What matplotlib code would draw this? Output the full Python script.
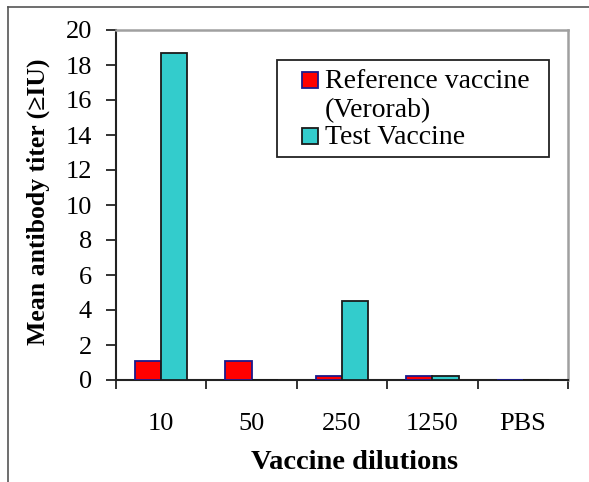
import matplotlib
matplotlib.use("Agg")
import matplotlib.pyplot as plt
import numpy as np
from matplotlib.lines import Line2D
from matplotlib.patches import Rectangle

categories = ["10", "50", "250", "1250", "PBS"]
reference_vaccine = [1.1, 1.1, 0.25, 0.25, 0.0]
test_vaccine = [18.7, 0.0, 4.5, 0.25, 0.0]
series_labels = ["Reference vaccine\n(Verorab)", "Test Vaccine"]
yticks = list(range(0, 21, 2))

plt.rcParams['font.family'] = ['Liberation Serif', 'DejaVu Serif']

RED = "#ff0000"
RED_EDGE = "#1a1a8c"
CYAN = "#33cccc"
CYAN_EDGE = "#1a1a1a"

W, H = 589, 482
fig = plt.figure(figsize=(W/100, H/100), dpi=100)
ax = fig.add_axes([116/W, 1-380/H, (568-116)/W, (380-30)/H])

x = np.arange(len(categories))
bw = 0.29
ax.bar(x - bw/2, reference_vaccine, width=bw, color=RED, edgecolor=RED_EDGE, linewidth=1.3, zorder=3)
ax.bar(x + bw/2, test_vaccine, width=bw, color=CYAN, edgecolor=CYAN_EDGE, linewidth=1.3, zorder=3)

ax.set_xlim(-0.5, len(categories)-0.5)
ax.set_ylim(0, 20)
ax.set_yticks(yticks)
ax.set_xticks(x)
ax.set_xticklabels(categories)
ax.set_xticks(np.arange(-0.5, len(categories)), minor=True)
ax.tick_params(axis='x', which='major', length=0, pad=24, labelsize=19)
ax.tick_params(axis='x', which='minor', length=6.5, width=1.3, direction='out', color='#222222')
ax.tick_params(axis='y', length=7.2, width=1.3, direction='out', pad=10, labelsize=19, color='#222222')

for s in ['left', 'bottom']:
    ax.spines[s].set_color('#222222')
    ax.spines[s].set_linewidth(1.5)
for s in ['top', 'right']:
    ax.spines[s].set_color('#a0a0a0')
    ax.spines[s].set_linewidth(1.8)

ax.set_ylabel("Mean antibody titer (≥IU)", fontsize=18.5, fontweight='bold')
ax.yaxis.set_label_coords((45-116)/452, (380-202)/350)
ax.yaxis.label.set_verticalalignment('baseline')
ax.set_xlabel("Vaccine dilutions", fontsize=20.5, fontweight='bold')
ax.xaxis.set_label_coords((355-116)/452, (380-469)/350)
ax.xaxis.label.set_verticalalignment('baseline')

# manual legend (in figure pixel coordinates)
def fx(px):
    return px / W
def fy(py):
    return 1 - py / H

fig.add_artist(Rectangle((fx(277), fy(157)), fx(549) - fx(277), fy(60) - fy(157),
                         transform=fig.transFigure, facecolor='white', edgecolor='#222222', lw=1.3, zorder=5))
fig.add_artist(Rectangle((fx(302), fy(88)), fx(318) - fx(302), fy(72) - fy(88),
                         transform=fig.transFigure, facecolor=RED, edgecolor=RED_EDGE, lw=1.3, zorder=6))
fig.add_artist(Rectangle((fx(302), fy(144)), fx(318) - fx(302), fy(128) - fy(144),
                         transform=fig.transFigure, facecolor=CYAN, edgecolor=CYAN_EDGE, lw=1.3, zorder=6))
ref_lines = series_labels[0].split("\n")
fig.text(fx(325), fy(88), ref_lines[0], fontsize=20, va='baseline', ha='left', zorder=7)
fig.text(fx(325), fy(117), ref_lines[1], fontsize=20, va='baseline', ha='left', zorder=7)
fig.text(fx(325), fy(144), series_labels[1], fontsize=20, va='baseline', ha='left', zorder=7)

# outer frame
fig.add_artist(Line2D([8/W, 8/W], [0, 1-7/H], transform=fig.transFigure, color='#555555', lw=1.2))
fig.add_artist(Line2D([8/W, 1], [1-7/H, 1-7/H], transform=fig.transFigure, color='#555555', lw=1.2))

fig.savefig("out.png", dpi=100)
